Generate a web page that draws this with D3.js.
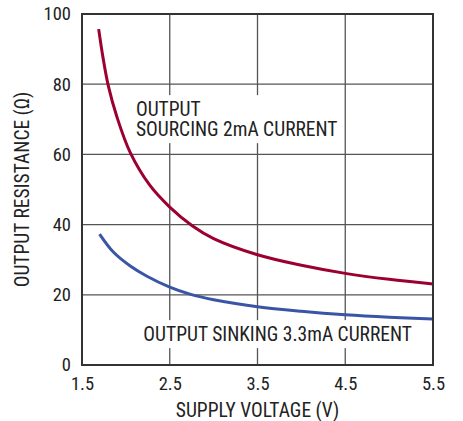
<!DOCTYPE html>
<html>
<head>
<meta charset="utf-8">
<script src="https://cdn.jsdelivr.net/npm/d3@7"></script>
<style>
  body { margin: 0; background: #fff; }
  text { font-family: "Liberation Sans Narrow", "Roboto Condensed", "Liberation Sans", sans-serif; fill: #222; }
</style>
</head>
<body>
<div id="chart"></div>
<script>
// Output resistance vs supply voltage

const xTicks = [1.5, 2.5, 3.5, 4.5, 5.5];
const yTicks = [0, 20, 40, 60, 80, 100];

const sourcingV = [1.69, 1.74, 1.8, 1.9, 2.05, 2.27, 2.5, 2.76, 3.0, 3.5, 4.0, 4.5, 5.0, 5.5];
const sourcingR = [95.7, 87.5, 79.5, 70.5, 60.5, 51.3, 45, 39.6, 36, 31.4, 28.4, 26.1, 24.4, 23.1];

const sinkingV = [1.7, 1.86, 2.05, 2.24, 2.5, 2.73, 3.0, 3.5, 4.0, 4.5, 5.0, 5.5];
const sinkingR = [37.3, 32.1, 28.2, 25.3, 22.2, 20.2, 18.6, 16.6, 15.3, 14.3, 13.6, 13.1];

const labels = [
  { lines: ["OUTPUT", "SOURCING 2mA CURRENT"], v: 2.115, r: 70.9 },
  { lines: ["OUTPUT SINKING 3.3mA CURRENT"], v: 2.199, r: 6.8 },
];

const W = 463, H = 421;
const margin = { top: 14, right: 30, bottom: 56, left: 82 };
const width = W - margin.left - margin.right;
const height = H - margin.top - margin.bottom;

const x = d3.scaleLinear().domain([1.5, 5.5]).range([0, width]);
const y = d3.scaleLinear().domain([0, 100]).range([height, 0]);

const svg = d3
  .select("#chart")
  .append("svg")
  .attr("width", W)
  .attr("height", H);

const g = svg
  .append("g")
  .attr("transform", `translate(${margin.left},${margin.top})`);

// Grid
g.append("g")
  .selectAll("line")
  .data(xTicks.slice(1, -1))
  .join("line")
  .attr("x1", (d) => x(d))
  .attr("x2", (d) => x(d))
  .attr("y1", 0)
  .attr("y2", height)
  .attr("stroke", "#555")
  .attr("stroke-width", 1.3);

g.append("g")
  .selectAll("line")
  .data(yTicks.slice(1, -1))
  .join("line")
  .attr("x1", 0)
  .attr("x2", width)
  .attr("y1", (d) => y(d))
  .attr("y2", (d) => y(d))
  .attr("stroke", "#555")
  .attr("stroke-width", 1.3);

// Labels with white boxes over the grid
labels.forEach((lb) => {
  const lg = g.append("g");
  const t = lg
    .append("text")
    .attr("x", x(lb.v))
    .attr("y", y(lb.r))
    .style("font-size", "19.5px");
  lb.lines.forEach((s, i) => {
    t.append("tspan")
      .attr("x", x(lb.v))
      .attr("dy", i === 0 ? 0 : 20)
      .text(s);
  });
  const bb = t.node().getBBox();
  lg.insert("rect", "text")
    .attr("x", bb.x - 4)
    .attr("y", bb.y - 3)
    .attr("width", bb.width + 8)
    .attr("height", bb.height + 5)
    .attr("fill", "#fff");
});

// Curves
const line = d3
  .line()
  .x((d) => x(d[0]))
  .y((d) => y(d[1]))
  .curve(d3.curveCatmullRom.alpha(0.5));

g.append("path")
  .datum(sourcingV.map((v, i) => [v, sourcingR[i]]))
  .attr("d", line)
  .attr("fill", "none")
  .attr("stroke", "#9b0030")
  .attr("stroke-width", 3);

g.append("path")
  .datum(sinkingV.map((v, i) => [v, sinkingR[i]]))
  .attr("d", line)
  .attr("fill", "none")
  .attr("stroke", "#3a55a6")
  .attr("stroke-width", 3);

// Frame
g.append("rect")
  .attr("width", width)
  .attr("height", height)
  .attr("fill", "none")
  .attr("stroke", "#333")
  .attr("stroke-width", 2);

// Axes
const xAxis = g
  .append("g")
  .attr("transform", `translate(0,${height})`)
  .call(d3.axisBottom(x).tickValues(xTicks).tickSize(0).tickPadding(12).tickFormat(d3.format(".1f")));
xAxis.select(".domain").remove();
xAxis.selectAll("text").style("font-size", "18.5px").attr("fill", "#222");

const yAxis = g
  .append("g")
  .call(d3.axisLeft(y).tickValues(yTicks).tickSize(0).tickPadding(11));
yAxis.select(".domain").remove();
yAxis.selectAll("text").style("font-size", "18.5px").attr("fill", "#222");

// Axis titles
g.append("text")
  .attr("x", width / 2)
  .attr("y", height + 52)
  .attr("text-anchor", "middle")
  .style("font-size", "19.5px")
  .text("SUPPLY VOLTAGE (V)");

g.append("text")
  .attr("transform", "rotate(-90)")
  .attr("x", -height / 2)
  .attr("y", -53)
  .attr("text-anchor", "middle")
  .style("font-size", "19.5px")
  .text("OUTPUT RESISTANCE (Ω)");
</script>
</body>
</html>
